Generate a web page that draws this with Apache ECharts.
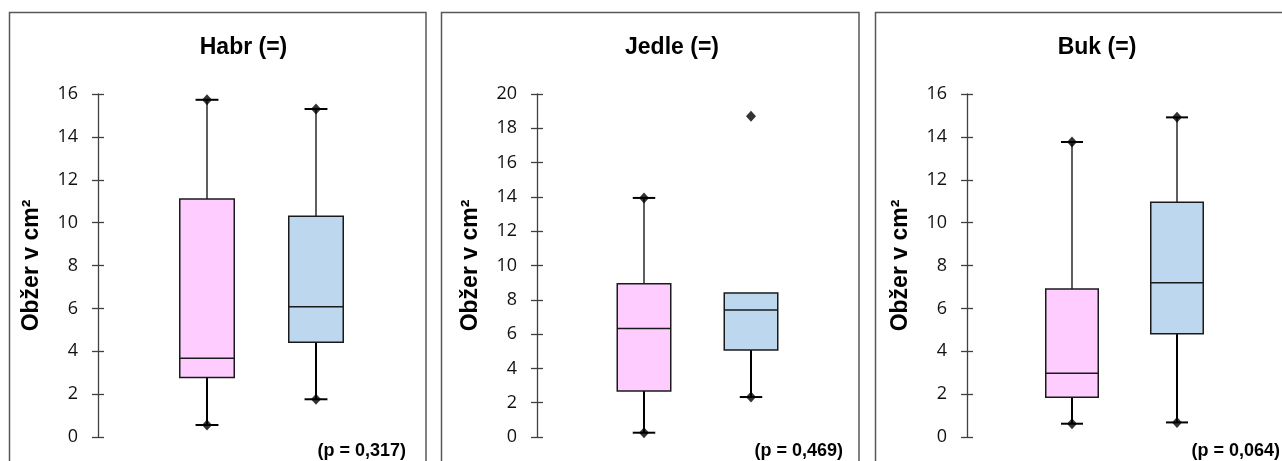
<!DOCTYPE html>
<html>
<head>
<meta charset="utf-8">
<script src="https://cdn.jsdelivr.net/npm/echarts@6/dist/echarts.min.js"></script>
<style>
html,body{margin:0;padding:0;background:#fff;}
#c{width:1282px;height:461px;}
</style>
</head>
<body>
<div id="c"></div>
<script>
// ---- data ----
var panelTitles = ['Habr (=)', 'Jedle (=)', 'Buk (=)'];
var pValues = ['(p = 0,317)', '(p = 0,469)', '(p = 0,064)'];
var yMaxes = [16, 20, 16];
var yInterval = 2;
var axisName = 'Obžer v cm²';
// box stats: [min, Q1, median, Q3, max]
var habrPink  = [0.56, 2.77, 3.67, 11.1, 15.73];
var habrBlue  = [1.76, 4.42, 6.08, 10.3, 15.3];
var jedlePink = [0.25, 2.68, 6.32, 8.94, 13.94];
var jedleBlue = [2.33, 5.07, 7.4, 8.4, 8.4];
var bukPink   = [0.62, 1.85, 2.97, 6.9, 13.76];
var bukBlue   = [0.68, 4.82, 7.2, 10.95, 14.91];
// outliers
var habrOutliers  = [[], []];
var jedleOutliers = [[], [18.7]];
var bukOutliers   = [[], []];

var panelsData = [
  [habrPink, habrBlue],
  [jedlePink, jedleBlue],
  [bukPink, bukBlue]
];
var panelsOutliers = [habrOutliers, jedleOutliers, bukOutliers];
var boxPositions = [1, 2];

// ---- layout / style ----
var fills = ['#FFCCFF', '#BDD7EE'];
var gridLefts = [98, 537, 967];
var gridWidths = [327, 321, 324];
var gridTop = 94, gridHeight = 343;
var panelRects = [[9.5, 12.5, 416.5], [441.5, 12.5, 417.5], [875.5, 12.5, 417]];
var titleX = [243.5, 672, 1097];
var pRight = [406, 843, 1280];

var grids = [], xAxes = [], yAxes = [], series = [], graphics = [];

panelRects.forEach(function (r) {
  graphics.push({
    type: 'rect', shape: { x: r[0], y: r[1], width: r[2], height: 470 },
    style: { fill: null, stroke: '#595959', lineWidth: 1.5 }, z: -1
  });
});

for (var p = 0; p < 3; p++) {
  grids.push({ left: gridLefts[p], top: gridTop, width: gridWidths[p], height: gridHeight, containLabel: false });
  xAxes.push({ gridIndex: p, type: 'value', min: 0, max: 3, show: false });
  yAxes.push({
    gridIndex: p, type: 'value', min: 0, max: yMaxes[p], interval: yInterval,
    axisLine: { show: true, lineStyle: { color: '#404040', width: 1.3 } },
    axisTick: { show: true, length: 6, lineStyle: { color: '#404040', width: 1.3 } },
    axisLabel: { margin: 20, fontFamily: 'Open Sans', fontSize: 18, color: '#111' },
    splitLine: { show: false }
  });
  yAxes.push({
    gridIndex: p, type: 'value', min: 0, max: yMaxes[p], interval: yInterval, position: 'left',
    axisLine: { show: false },
    axisTick: { show: true, inside: true, length: 6, lineStyle: { color: '#404040', width: 1.3 } },
    axisLabel: { show: false },
    splitLine: { show: false }
  });

  var boxData = panelsData[p].map(function (s, i) {
    return [boxPositions[i], s[0], s[1], s[2], s[3], s[4], i];
  });
  series.push({
    type: 'custom', xAxisIndex: p, yAxisIndex: 2 * p,
    data: boxData,
    encode: { x: 0, y: [1, 2, 3, 4, 5] },
    renderItem: function (params, api) {
      var x = api.value(0);
      var unit = api.size([1, 0])[0];
      var bw = unit * 0.5, cw = unit * 0.21;
      var pMin = api.coord([x, api.value(1)]);
      var pQ1 = api.coord([x, api.value(2)]);
      var pMed = api.coord([x, api.value(3)]);
      var pQ3 = api.coord([x, api.value(4)]);
      var pMax = api.coord([x, api.value(5)]);
      var cx = pMin[0];
      var idx = api.value(6);
      var children = [];
      var ls = { stroke: '#1a1a1a', lineWidth: 1.5 };
      // lower whisker
      children.push({ type: 'line', shape: { x1: cx, y1: pQ1[1], x2: cx, y2: pMin[1] }, style: { stroke: '#000', lineWidth: 2 } });
      children.push({ type: 'line', shape: { x1: cx - cw / 2, y1: pMin[1], x2: cx + cw / 2, y2: pMin[1] }, style: { stroke: '#000', lineWidth: 2 } });
      // upper whisker
      if (api.value(5) > api.value(4)) {
        children.push({ type: 'line', shape: { x1: cx, y1: pQ3[1], x2: cx, y2: pMax[1] }, style: { stroke: '#1a1a1a', lineWidth: 1.4 } });
        children.push({ type: 'line', shape: { x1: cx - cw / 2, y1: pMax[1], x2: cx + cw / 2, y2: pMax[1] }, style: { stroke: '#000', lineWidth: 2 } });
      }
      // box
      children.push({ type: 'rect', shape: { x: cx - bw / 2, y: pQ3[1], width: bw, height: pQ1[1] - pQ3[1] },
        style: { fill: fills[idx], stroke: '#1a1a1a', lineWidth: 1.5 } });
      // median
      children.push({ type: 'line', shape: { x1: cx - bw / 2, y1: pMed[1], x2: cx + bw / 2, y2: pMed[1] }, style: ls });
      return { type: 'group', children: children };
    },
    z: 2
  });

  // whisker end diamonds
  var ends = [];
  panelsData[p].forEach(function (s, i) {
    ends.push([boxPositions[i], s[0]]);
    if (s[4] > s[3]) ends.push([boxPositions[i], s[4]]);
  });
  panelsOutliers[p].forEach(function (arr, i) {
    arr.forEach(function (v) { ends.push([boxPositions[i], v]); });
  });
  series.push({
    type: 'scatter', xAxisIndex: p, yAxisIndex: 2 * p, data: ends,
    symbol: 'diamond', symbolSize: [10, 11], itemStyle: { color: '#000' }, z: 3, silent: true
  });

  graphics.push({
    type: 'text', x: titleX[p], y: 48,
    style: { text: panelTitles[p], fontFamily: 'Liberation Sans', fontWeight: 'bold', fontSize: 23,
      fill: '#000', align: 'center', verticalAlign: 'middle' }
  });
  graphics.push({
    type: 'text', x: pRight[p], y: 451,
    style: { text: pValues[p], fontFamily: 'Liberation Sans', fontWeight: 'bold', fontSize: 18,
      fill: '#000', align: 'right', verticalAlign: 'middle' }
  });
  graphics.push({
    type: 'text', x: gridLefts[p] - 66, y: gridTop + gridHeight / 2, rotation: Math.PI / 2,
    style: { text: axisName, fontFamily: 'Liberation Sans', fontWeight: 'bold', fontSize: 23,
      fill: '#000', align: 'center', verticalAlign: 'middle' }
  });
}

var chart = echarts.init(document.getElementById('c'), null, { renderer: 'canvas' });
chart.setOption({
  animation: false,
  backgroundColor: '#fff',
  grid: grids,
  xAxis: xAxes,
  yAxis: yAxes,
  series: series,
  graphic: graphics
});
</script>
</body>
</html>
